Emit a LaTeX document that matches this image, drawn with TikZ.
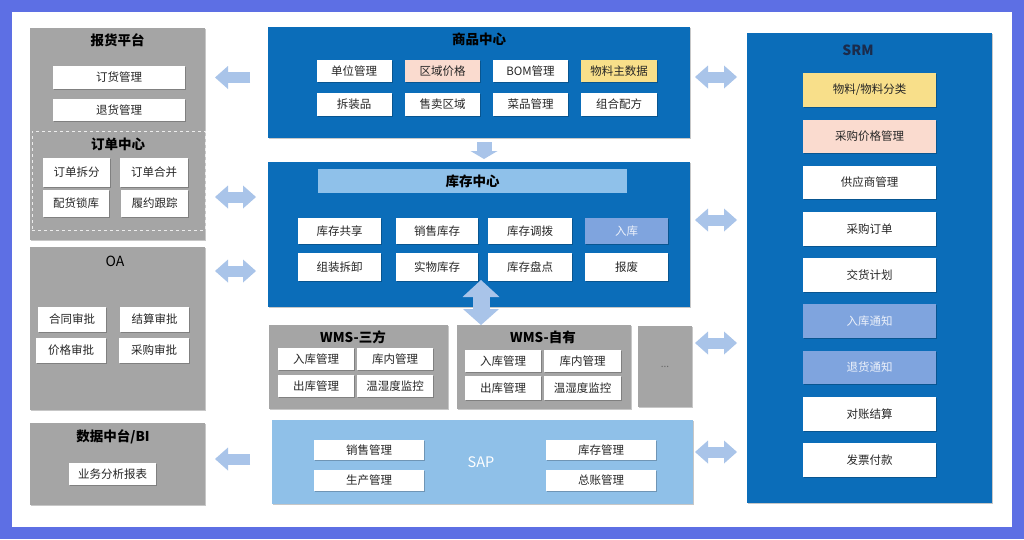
\documentclass[tikz,border=0pt]{standalone}
\usepackage{fontspec}
\setmainfont{Noto Sans CJK SC}
\usetikzlibrary{arrows.meta,shadows}
\definecolor{framec}{HTML}{5D6FE4}
\definecolor{grayp}{HTML}{A5A5A5}
\definecolor{darkb}{HTML}{0B6DB9}
\definecolor{lightb}{HTML}{8FC1EA}
\definecolor{sapc}{HTML}{8FC0E8}
\definecolor{midb}{HTML}{7FA4DE}
\definecolor{arrc}{HTML}{A9C4E9}
\definecolor{yelc}{HTML}{F8DF8A}
\definecolor{pinkc}{HTML}{FADBCF}
\definecolor{txtc}{HTML}{262626}
\definecolor{navyc}{HTML}{1B2B4B}
\newcommand\mkbox[7]{\node[#6,minimum width=#4pt,minimum height=#5pt] (#1) at (#2,#3) {#7};}
\begin{document}
\begin{tikzpicture}[x=1pt,y=-1pt,
  shd/.style={drop shadow={shadow xshift=1pt,shadow yshift=-1pt,opacity=0.22,fill=black}},
  pnl/.style={inner sep=0pt,outer sep=0pt},
  gp/.style={pnl,fill=grayp,shd},
  bp/.style={pnl,fill=darkb,shd},
  wb/.style={pnl,fill=white,text=txtc,font=\fontsize{11.5}{13}\selectfont,shd},
  yb/.style={wb,fill=yelc},
  pb/.style={wb,fill=pinkc},
  mb/.style={wb,fill=midb,text=white!85!midb},
  ttl/.style={inner sep=0pt,font=\fontsize{13.5}{16}\selectfont\bfseries,text=black},
  blk/.style={draw=arrc,line width=11pt,-{Triangle[length=13pt,width=23pt,line width=0pt]}},
  dbl/.style={draw=arrc,line width=11pt,{Triangle[length=13pt,width=23pt,line width=0pt]}-{Triangle[length=13pt,width=23pt,line width=0pt]}},
]
\useasboundingbox (0,0) rectangle (1024,539);
\fill[framec] (0,0) rectangle (1024,539);
\fill[white] (12,12) rectangle (1012,527);

% ---- left column
\mkbox{bh}{117.5}{134}{175}{212}{gp}{}
\node[ttl] (bht) at (117.5,40) {报货平台};
\mkbox{dh}{119}{77.5}{132}{23}{wb}{订货管理}
\mkbox{th}{119}{110}{132}{22}{wb}{退货管理}
\node[pnl,fill=grayp,draw=white!80!grayp,dashed,line width=0.9pt,minimum width=173pt,minimum height=99pt] (dd) at (118.5,180.5) {};
\node[ttl] (ddt) at (118,144) {订单中心};
\mkbox{dd1}{76.5}{172.5}{67}{29}{wb}{订单拆分}
\mkbox{dd2}{154}{172.5}{68}{29}{wb}{订单合并}
\mkbox{dd3}{76}{203.5}{66}{27}{wb}{配货锁库}
\mkbox{dd4}{154.5}{203.5}{67}{27}{wb}{履约跟踪}

\mkbox{oa}{117.5}{328.5}{175}{163}{gp}{}
\node[inner sep=0pt,font=\fontsize{14}{16}\selectfont,text=black] (oat) at (115,261) {OA};
\mkbox{oa1}{72}{319.5}{68}{25}{wb}{合同审批}
\mkbox{oa2}{154.5}{319.5}{69}{25}{wb}{结算审批}
\mkbox{oa3}{71}{350.5}{70}{25}{wb}{价格审批}
\mkbox{oa4}{154}{350.5}{70}{25}{wb}{采购审批}

\mkbox{bi}{117.5}{464}{175}{82}{gp}{}
\node[ttl] (bit) at (113,437) {数据中台/BI};
\mkbox{bi1}{112.5}{474}{87}{22}{wb}{业务分析报表}

% ---- middle column
\mkbox{sp}{479}{82.5}{422}{111}{bp}{}
\node[ttl] (spt) at (479,39) {商品中心};
\mkbox{sp1}{354}{71}{75}{22}{wb}{单位管理}
\mkbox{sp2}{442.5}{71}{75}{22}{pb}{区域价格}
\mkbox{sp3}{530.5}{71}{75}{22}{wb}{BOM管理}
\mkbox{sp4}{619}{71}{76}{22}{yb}{物料主数据}
\mkbox{sp5}{354}{104.5}{75}{23}{wb}{拆装品}
\mkbox{sp6}{442.5}{104.5}{75}{23}{wb}{售卖区域}
\mkbox{sp7}{530.5}{104.5}{75}{23}{wb}{菜品管理}
\mkbox{sp8}{619}{104.5}{76}{23}{wb}{组合配方}

\mkbox{kc}{479}{234.5}{422}{145}{bp}{}
\node[pnl,fill=lightb,minimum width=309pt,minimum height=24pt,font=\fontsize{13.5}{16}\selectfont\bfseries] (kct) at (472.5,181) {库存中心};
\mkbox{kc1}{339.5}{231}{83}{26}{wb}{库存共享}
\mkbox{kc2}{437}{231}{82}{26}{wb}{销售库存}
\mkbox{kc3}{530}{231}{84}{26}{wb}{库存调拨}
\mkbox{kc4}{626.5}{231}{83}{26}{mb}{入库}
\mkbox{kc5}{339.5}{267}{83}{28}{wb}{组装拆卸}
\mkbox{kc6}{437}{267}{82}{28}{wb}{实物库存}
\mkbox{kc7}{530}{267}{84}{28}{wb}{库存盘点}
\mkbox{kc8}{626.5}{267}{83}{28}{wb}{报废}

\mkbox{ws}{358.5}{367}{179}{84}{gp}{}
\node[ttl] (wst) at (353,337) {WMS-三方};
\mkbox{ws1}{316}{359}{76}{22}{wb}{入库管理}
\mkbox{ws2}{395}{359}{76}{22}{wb}{库内管理}
\mkbox{ws3}{316}{386}{76}{22}{wb}{出库管理}
\mkbox{ws4}{395}{386}{76}{22}{wb}{温湿度监控}

\mkbox{wz}{544}{367}{174}{84}{gp}{}
\node[ttl] (wzt) at (543,337) {WMS-自有};
\mkbox{wz1}{503}{361}{76}{22}{wb}{入库管理}
\mkbox{wz2}{582.5}{361}{77}{22}{wb}{库内管理}
\mkbox{wz3}{503}{388}{76}{24}{wb}{出库管理}
\mkbox{wz4}{582.5}{388}{77}{24}{wb}{温湿度监控}

\mkbox{wm}{665}{366.5}{54}{81}{gp}{\color{black!60}\fontsize{10}{11}\selectfont ...}

\mkbox{sap}{482.5}{462}{421}{84}{pnl,fill=sapc,shd}{}
\node[inner sep=0pt,font=\fontsize{14.5}{16}\selectfont,text=white] (sapt) at (481,462) {SAP};
\mkbox{sa1}{369}{450}{110}{20}{wb}{销售管理}
\mkbox{sa2}{369}{480.5}{110}{21}{wb}{生产管理}
\mkbox{sa3}{601}{450}{110}{20}{wb}{库存管理}
\mkbox{sa4}{601}{480.5}{110}{21}{wb}{总账管理}

% ---- right column
\mkbox{srm}{869.5}{268}{245}{470}{bp}{}
\node[ttl,text=navyc,font=\fontsize{14}{16}\selectfont\bfseries] (srmt) at (858,50) {SRM};
\mkbox{sr1}{869.5}{90}{133}{34}{yb}{物料/物料分类}
\mkbox{sr2}{869.5}{136.5}{133}{33}{pb}{采购价格管理}
\mkbox{sr3}{869.5}{182.5}{133}{33}{wb}{供应商管理}
\mkbox{sr4}{869.5}{229}{133}{34}{wb}{采购订单}
\mkbox{sr5}{869.5}{275}{133}{34}{wb}{交货计划}
\mkbox{sr6}{869.5}{321}{133}{34}{mb}{入库通知}
\mkbox{sr7}{869.5}{367.5}{133}{33}{mb}{退货通知}
\mkbox{sr8}{869.5}{414}{133}{34}{wb}{对账结算}
\mkbox{sr9}{869.5}{460}{133}{34}{wb}{发票付款}

% ---- arrows
\draw[blk,shorten <=18pt,shorten >=10pt] (sp.west |- dh.center) -- (bh.east |- dh.center);
\draw[dbl,shorten <=10pt,shorten >=12pt] (bh.east |- 0,197) -- (kc.west |- 0,197);
\draw[dbl,shorten <=10pt,shorten >=12pt] (oa.east |- 0,271) -- (kc.west |- 0,271);
\draw[blk,shorten <=22pt,shorten >=10pt] (sap.west |- 0,459) -- (bi.east |- 0,459);
\draw[draw=arrc,line width=15pt,-{Triangle[length=8pt,width=27pt,line width=0pt]},shorten <=4pt,shorten >=3pt] (sp.south -| 484,0) -- (kc.north -| 484,0);
\coordinate (vtop) at (481,280);
\draw[draw=arrc,line width=17pt,{Triangle[length=17pt,width=37pt,line width=0pt]}-{Triangle[length=16pt,width=36pt,line width=0pt]}] (vtop) -- (wz.north -| vtop);
\draw[dbl,shorten <=5pt,shorten >=10pt] (sp.east |- 0,77) -- (srm.west |- 0,77);
\draw[dbl,shorten <=5pt,shorten >=10pt] (kc.east |- 0,220) -- (srm.west |- 0,220);
\draw[dbl,shorten <=3pt,shorten >=10pt] (wm.east |- 0,343) -- (srm.west |- 0,343);
\draw[dbl,shorten <=2pt,shorten >=10pt] (sap.east |- 0,452) -- (srm.west |- 0,452);
\end{tikzpicture}
\end{document}
